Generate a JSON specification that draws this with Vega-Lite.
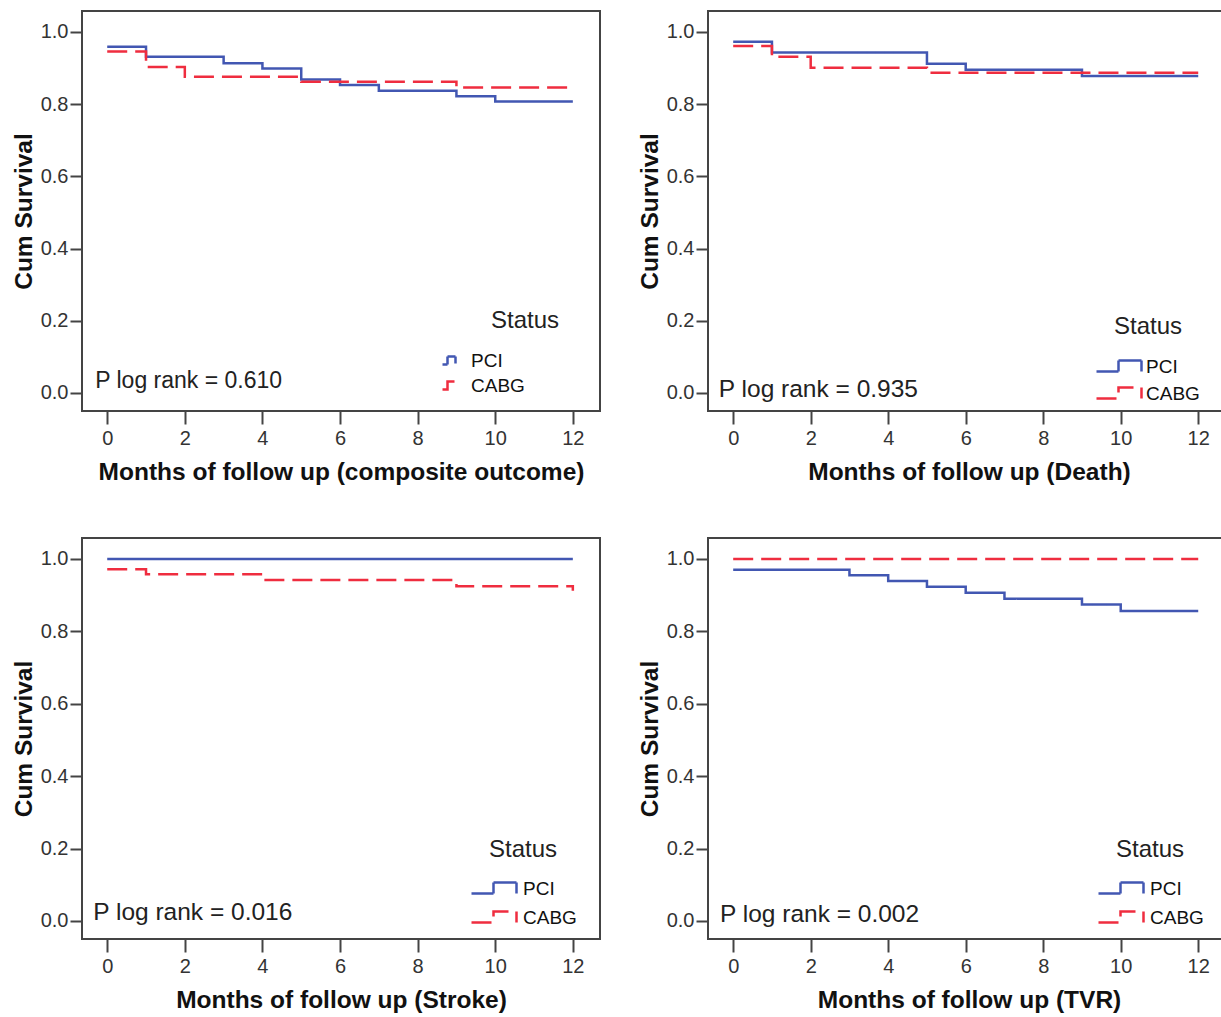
{
  "$schema": "https://vega.github.io/schema/vega-lite/v6.json",
  "background": "white",
  "padding": {"left": 10, "top": 10, "right": 0, "bottom": 0},
  "columns": 2,
  "spacing": {"row": 52, "column": 35},
  "resolve": {"scale": {"color": "independent", "strokeDash": "independent"}, "legend": {"color": "independent", "strokeDash": "independent"}},
  "config": {
    "font": "Liberation Sans",
    "view": {"stroke": "#444444", "strokeWidth": 2},
    "axis": {
      "domain": false, "grid": false, "tickColor": "#444444", "tickWidth": 2,
      "labelFont": "Liberation Sans", "labelFontSize": 20, "labelColor": "#333333",
      "titleFont": "Liberation Sans", "titleFontSize": 24.5, "titleFontWeight": "bold", "titleColor": "#111111"
    },
    "axisX": {"tickSize": 13, "labelPadding": 4, "titlePadding": 12},
    "axisY": {"tickSize": 12, "labelPadding": 2, "titlePadding": 4},
    "legend": {
      "padding": 0, "titleFont": "Liberation Sans", "titleFontSize": 24, "titleFontWeight": "normal", "titleColor": "#222222",
      "labelFont": "Liberation Sans", "labelFontSize": 19, "labelColor": "#111111",
      "symbolStrokeWidth": 2.5, "symbolFillColor": "transparent", "symbolSize": 4
    }
  },
  "datasets": {
    "composite": [
      {"group": "PCI", "t": 0, "s": 0.959, "i": 0},
      {"group": "PCI", "t": 1, "s": 0.931, "i": 1},
      {"group": "PCI", "t": 3, "s": 0.913, "i": 2},
      {"group": "PCI", "t": 4, "s": 0.899, "i": 3},
      {"group": "PCI", "t": 5, "s": 0.868, "i": 4},
      {"group": "PCI", "t": 6, "s": 0.853, "i": 5},
      {"group": "PCI", "t": 7, "s": 0.837, "i": 6},
      {"group": "PCI", "t": 9, "s": 0.822, "i": 7},
      {"group": "PCI", "t": 10, "s": 0.807, "i": 8},
      {"group": "PCI", "t": 12, "s": 0.807, "i": 9},
      {"group": "CABG", "t": 0, "s": 0.946, "i": 0},
      {"group": "CABG", "t": 1, "s": 0.903, "i": 1},
      {"group": "CABG", "t": 2, "s": 0.876, "i": 2},
      {"group": "CABG", "t": 5, "s": 0.862, "i": 3},
      {"group": "CABG", "t": 9, "s": 0.846, "i": 4},
      {"group": "CABG", "t": 12, "s": 0.846, "i": 5}
    ],
    "death": [
      {"group": "PCI", "t": 0, "s": 0.973, "i": 0},
      {"group": "PCI", "t": 1, "s": 0.943, "i": 1},
      {"group": "PCI", "t": 5, "s": 0.912, "i": 2},
      {"group": "PCI", "t": 6, "s": 0.895, "i": 3},
      {"group": "PCI", "t": 9, "s": 0.878, "i": 4},
      {"group": "PCI", "t": 12, "s": 0.878, "i": 5},
      {"group": "CABG", "t": 0, "s": 0.961, "i": 0},
      {"group": "CABG", "t": 1, "s": 0.931, "i": 1},
      {"group": "CABG", "t": 2, "s": 0.901, "i": 2},
      {"group": "CABG", "t": 5, "s": 0.887, "i": 3},
      {"group": "CABG", "t": 12, "s": 0.887, "i": 4}
    ],
    "stroke": [
      {"group": "PCI", "t": 0, "s": 1.0, "i": 0},
      {"group": "PCI", "t": 12, "s": 1.0, "i": 1},
      {"group": "CABG", "t": 0, "s": 0.972, "i": 0},
      {"group": "CABG", "t": 1, "s": 0.958, "i": 1},
      {"group": "CABG", "t": 4, "s": 0.942, "i": 2},
      {"group": "CABG", "t": 9, "s": 0.925, "i": 3},
      {"group": "CABG", "t": 12, "s": 0.925, "i": 4},
      {"group": "CABG", "t": 12, "s": 0.912, "i": 5}
    ],
    "tvr": [
      {"group": "PCI", "t": 0, "s": 0.970, "i": 0},
      {"group": "PCI", "t": 3, "s": 0.955, "i": 1},
      {"group": "PCI", "t": 4, "s": 0.939, "i": 2},
      {"group": "PCI", "t": 5, "s": 0.923, "i": 3},
      {"group": "PCI", "t": 6, "s": 0.907, "i": 4},
      {"group": "PCI", "t": 7, "s": 0.890, "i": 5},
      {"group": "PCI", "t": 9, "s": 0.874, "i": 6},
      {"group": "PCI", "t": 10, "s": 0.856, "i": 7},
      {"group": "PCI", "t": 12, "s": 0.856, "i": 8},
      {"group": "CABG", "t": 0, "s": 1.0, "i": 0},
      {"group": "CABG", "t": 12, "s": 1.0, "i": 1}
    ]
  },
  "concat": [
    {
      "width": 518, "height": 400,
      "layer": [
        {
          "data": {"name": "composite"},
          "mark": {"type": "line", "interpolate": "step-after", "strokeWidth": 2.5},
          "encoding": {
            "x": {"field": "t", "type": "quantitative", "scale": {"domain": [-0.65, 12.7], "nice": false, "zero": false}, "axis": {"values": [0, 2, 4, 6, 8, 10, 12], "title": "Months of follow up (composite outcome)"}},
            "y": {"field": "s", "type": "quantitative", "scale": {"domain": [-0.05, 1.058], "nice": false, "zero": false}, "axis": {"values": [0, 0.2, 0.4, 0.6, 0.8, 1], "format": ".1f", "title": "Cum Survival"}},
            "color": {"field": "group", "type": "nominal", "scale": {"domain": ["PCI", "CABG"], "range": ["#4257b2", "#ef2d3f"]},
              "legend": {"orient": "none", "legendX": 370, "legendY": 298, "title": "Status", "symbolType": "M-19,4H-14V-4H-6V3", "labelOffset": 0, "titleAnchor": "end", "titleAlign": "center", "titlePadding": 18, "rowPadding": 5}},
            "strokeDash": {"field": "group", "type": "nominal", "scale": {"domain": ["PCI", "CABG"], "range": [[1, 0], [20, 8]]},
              "legend": {"orient": "none", "legendX": 370, "legendY": 298, "title": "Status", "symbolType": "M-19,4H-14V-4H-6V3", "labelOffset": 0, "titleAnchor": "end", "titleAlign": "center", "titlePadding": 18, "rowPadding": 5}},
            "order": {"field": "i", "type": "quantitative"}
          }
        },
        {
          "data": {"values": [{"label": "P log rank = 0.610"}]},
          "mark": {"type": "text", "align": "left", "baseline": "middle", "fontSize": 23, "color": "#222222"},
          "encoding": {"x": {"datum": -0.31}, "y": {"datum": 0.033}, "text": {"field": "label", "type": "nominal"}}
        }
      ]
    },
    {
      "width": 522, "height": 400,
      "layer": [
        {
          "data": {"name": "death"},
          "mark": {"type": "line", "interpolate": "step-after", "strokeWidth": 2.5},
          "encoding": {
            "x": {"field": "t", "type": "quantitative", "scale": {"domain": [-0.65, 12.82], "nice": false, "zero": false}, "axis": {"values": [0, 2, 4, 6, 8, 10, 12], "title": "Months of follow up (Death)"}},
            "y": {"field": "s", "type": "quantitative", "scale": {"domain": [-0.05, 1.058], "nice": false, "zero": false}, "axis": {"values": [0, 0.2, 0.4, 0.6, 0.8, 1], "format": ".1f", "title": "Cum Survival"}},
            "color": {"field": "group", "type": "nominal", "scale": {"domain": ["PCI", "CABG"], "range": ["#4257b2", "#ef2d3f"]},
              "legend": {"orient": "none", "legendX": 406, "legendY": 304, "title": "Status", "symbolType": "M-27,5H-5V-6H18V5", "labelOffset": 13, "titleAnchor": "start", "titleAlign": "left", "titlePadding": 18, "rowPadding": 5}},
            "strokeDash": {"field": "group", "type": "nominal", "scale": {"domain": ["PCI", "CABG"], "range": [[1, 0], [20, 8]]},
              "legend": {"orient": "none", "legendX": 406, "legendY": 304, "title": "Status", "symbolType": "M-27,5H-5V-6H18V5", "labelOffset": 13, "titleAnchor": "start", "titleAlign": "left", "titlePadding": 18, "rowPadding": 5}},
            "order": {"field": "i", "type": "quantitative"}
          }
        },
        {
          "data": {"values": [{"label": "P log rank = 0.935"}]},
          "mark": {"type": "text", "align": "left", "baseline": "middle", "fontSize": 24.5, "color": "#222222"},
          "encoding": {"x": {"datum": -0.37}, "y": {"datum": 0.008}, "text": {"field": "label", "type": "nominal"}}
        }
      ]
    },
    {
      "width": 518, "height": 401,
      "layer": [
        {
          "data": {"name": "stroke"},
          "mark": {"type": "line", "interpolate": "step-after", "strokeWidth": 2.5},
          "encoding": {
            "x": {"field": "t", "type": "quantitative", "scale": {"domain": [-0.65, 12.7], "nice": false, "zero": false}, "axis": {"values": [0, 2, 4, 6, 8, 10, 12], "title": "Months of follow up (Stroke)"}},
            "y": {"field": "s", "type": "quantitative", "scale": {"domain": [-0.05, 1.058], "nice": false, "zero": false}, "axis": {"values": [0, 0.2, 0.4, 0.6, 0.8, 1], "format": ".1f", "title": "Cum Survival"}},
            "color": {"field": "group", "type": "nominal", "scale": {"domain": ["PCI", "CABG"], "range": ["#4257b2", "#ef2d3f"]},
              "legend": {"orient": "none", "legendX": 407, "legendY": 300, "title": "Status", "symbolType": "M-27,5H-5V-6H18V5", "labelOffset": 15, "titleAnchor": "start", "titleAlign": "left", "titlePadding": 17, "rowPadding": 7}},
            "strokeDash": {"field": "group", "type": "nominal", "scale": {"domain": ["PCI", "CABG"], "range": [[1, 0], [20, 8]]},
              "legend": {"orient": "none", "legendX": 407, "legendY": 300, "title": "Status", "symbolType": "M-27,5H-5V-6H18V5", "labelOffset": 15, "titleAnchor": "start", "titleAlign": "left", "titlePadding": 17, "rowPadding": 7}},
            "order": {"field": "i", "type": "quantitative"}
          }
        },
        {
          "data": {"values": [{"label": "P log rank = 0.016"}]},
          "mark": {"type": "text", "align": "left", "baseline": "middle", "fontSize": 24.5, "color": "#222222"},
          "encoding": {"x": {"datum": -0.36}, "y": {"datum": 0.022}, "text": {"field": "label", "type": "nominal"}}
        }
      ]
    },
    {
      "width": 522, "height": 401,
      "layer": [
        {
          "data": {"name": "tvr"},
          "mark": {"type": "line", "interpolate": "step-after", "strokeWidth": 2.5},
          "encoding": {
            "x": {"field": "t", "type": "quantitative", "scale": {"domain": [-0.65, 12.82], "nice": false, "zero": false}, "axis": {"values": [0, 2, 4, 6, 8, 10, 12], "title": "Months of follow up (TVR)"}},
            "y": {"field": "s", "type": "quantitative", "scale": {"domain": [-0.05, 1.058], "nice": false, "zero": false}, "axis": {"values": [0, 0.2, 0.4, 0.6, 0.8, 1], "format": ".1f", "title": "Cum Survival"}},
            "color": {"field": "group", "type": "nominal", "scale": {"domain": ["PCI", "CABG"], "range": ["#4257b2", "#ef2d3f"]},
              "legend": {"orient": "none", "legendX": 408, "legendY": 300, "title": "Status", "symbolType": "M-27,5H-5V-6H18V5", "labelOffset": 15, "titleAnchor": "start", "titleAlign": "left", "titlePadding": 17, "rowPadding": 7}},
            "strokeDash": {"field": "group", "type": "nominal", "scale": {"domain": ["PCI", "CABG"], "range": [[1, 0], [20, 8]]},
              "legend": {"orient": "none", "legendX": 408, "legendY": 300, "title": "Status", "symbolType": "M-27,5H-5V-6H18V5", "labelOffset": 15, "titleAnchor": "start", "titleAlign": "left", "titlePadding": 17, "rowPadding": 7}},
            "order": {"field": "i", "type": "quantitative"}
          }
        },
        {
          "data": {"values": [{"label": "P log rank = 0.002"}]},
          "mark": {"type": "text", "align": "left", "baseline": "middle", "fontSize": 24.5, "color": "#222222"},
          "encoding": {"x": {"datum": -0.34}, "y": {"datum": 0.017}, "text": {"field": "label", "type": "nominal"}}
        }
      ]
    }
  ]
}
